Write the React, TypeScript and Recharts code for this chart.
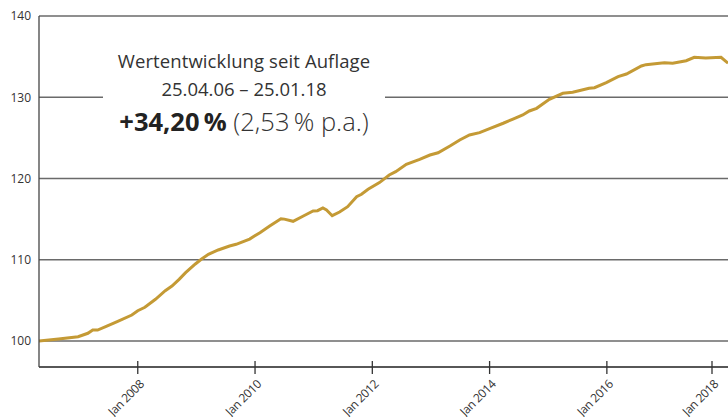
import React from "react";
import { LineChart, Line, XAxis, YAxis, CartesianGrid } from "recharts";

const dates: string[] = [
  "2006-04-25", "2006-08-25", "2006-12-25", "2007-02-25", "2007-03-25", "2007-04-25",
  "2007-06-25", "2007-08-25", "2007-11-25", "2008-01-01", "2008-02-15", "2008-04-20",
  "2008-06-20", "2008-08-01", "2008-09-15", "2008-10-25", "2008-12-25", "2009-02-01",
  "2009-03-15", "2009-05-15", "2009-07-25", "2009-09-05", "2009-11-28", "2010-02-01",
  "2010-04-01", "2010-06-10", "2010-07-01", "2010-08-25", "2010-10-28", "2010-12-28",
  "2011-01-25", "2011-02-28", "2011-03-20", "2011-04-25", "2011-06-10", "2011-07-30",
  "2011-09-25", "2011-10-25", "2011-12-05", "2012-02-15", "2012-04-15", "2012-05-25",
  "2012-07-30", "2012-10-22", "2012-12-25", "2013-02-15", "2013-04-28", "2013-06-28",
  "2013-08-28", "2013-10-30", "2014-01-01", "2014-03-25", "2014-05-25", "2014-07-25",
  "2014-09-05", "2014-10-20", "2015-01-08", "2015-04-01", "2015-06-01", "2015-09-12",
  "2015-10-15", "2015-12-28", "2016-03-10", "2016-05-01", "2016-08-03", "2016-09-01",
  "2016-11-25", "2016-12-25", "2017-02-15", "2017-05-08", "2017-06-28", "2017-09-08",
  "2017-12-12", "2018-01-25",
];

const values: number[] = [
  100.0, 100.25, 100.53, 100.95, 101.35, 101.35,
  101.85, 102.38, 103.2, 103.73, 104.15, 105.13,
  106.19, 106.77, 107.59, 108.41, 109.48, 110.06,
  110.67, 111.2, 111.69, 111.9, 112.55, 113.33,
  114.15, 115.05, 115.0, 114.73, 115.38, 116.0,
  116.04, 116.37, 116.12, 115.42, 115.88, 116.53,
  117.76, 118.06, 118.67, 119.5, 120.43, 120.84,
  121.75, 122.36, 122.89, 123.17, 124.0, 124.74,
  125.35, 125.64, 126.13, 126.8, 127.32, 127.82,
  128.31, 128.64, 129.75, 130.49, 130.61, 131.1,
  131.18, 131.79, 132.53, 132.86, 133.85, 134.01,
  134.18, 134.25, 134.18, 134.5, 134.92, 134.83,
  134.92, 134.2,
];

const xTickYears: number[] = [2008, 2010, 2012, 2014, 2016, 2018];
const yTicks: number[] = [100, 110, 120, 130, 140];

const titleLine1 = "Wertentwicklung seit Auflage";
const titleLine2 = "25.04.06 – 25.01.18";
const perfTotal = "+34,20\u2009%";
const perfPa = "(2,53\u2009% p.a.)";

function toYear(s: string): number {
  const [y, m, d] = s.split("-").map(Number);
  return y + (m - 1) / 12 + (d - 1) / 365;
}

const data = dates.map((d, i) => ({ t: toYear(d), v: values[i] }));
const startT = toYear(dates[0]);
const endT = toYear(dates[dates.length - 1]);

const FONT = "'Open Sans', 'DejaVu Sans', sans-serif";

const XTick = (props: any) => {
  const { x, y, payload } = props;
  const ax = x + 7;
  const ay = y + 18;
  return (
    <g>
      <line x1={x} x2={x} y1={y - 6} y2={y + 7} stroke="#333" strokeWidth={1.3} />
      <text
        x={ax}
        y={ay}
        textAnchor="end"
        fontSize={12}
        fill="#333"
        fontFamily={FONT}
        letterSpacing={-0.4}
        transform={`rotate(-45, ${ax}, ${ay})`}
      >
        {`Jan ${payload.value}`}
      </text>
    </g>
  );
};

export default function App() {
  return (
    <div style={{ position: "absolute", left: 0, top: 0, width: 728, height: 417, background: "#fff" }}>
      <LineChart
        width={728}
        height={417}
        data={data}
        margin={{ top: 16, right: 0, left: 0, bottom: 0 }}
      >
        <CartesianGrid vertical={false} stroke="#6a6a6a" strokeWidth={1.3} />
        <XAxis
          dataKey="t"
          type="number"
          domain={[startT, endT]}
          ticks={xTickYears}
          tick={<XTick />}
          tickLine={false}
          tickSize={0}
          tickMargin={0}
          height={50}
          axisLine={{ stroke: "#444", strokeWidth: 1.3 }}
          allowDataOverflow
        />
        <YAxis
          type="number"
          domain={[96.8, 140]}
          ticks={yTicks}
          width={39}
          tickLine={false}
          axisLine={{ stroke: "#444", strokeWidth: 1.3 }}
          tick={{ fontSize: 12, fill: "#333", fontFamily: FONT }}
          allowDataOverflow
        />
        <Line
          type="linear"
          dataKey="v"
          stroke="#C49A35"
          strokeWidth={3}
          dot={false}
          isAnimationActive={false}
        />
      </LineChart>
      <div
        style={{
          position: "absolute",
          left: 103,
          top: 45,
          width: 282,
          height: 96,
          background: "#fff",
          textAlign: "center",
          color: "#333",
          fontFamily: FONT,
        }}
      >
        <div style={{ fontSize: 18.5, lineHeight: "28px", marginTop: 2, letterSpacing: 0.1 }}>{titleLine1}</div>
        <div style={{ fontSize: 18.5, lineHeight: "28px" }}>{titleLine2}</div>
        <div style={{ fontSize: 25.5, lineHeight: "36px", whiteSpace: "nowrap" }}>
          <span style={{ fontWeight: 700, color: "#222" }}>{perfTotal}</span>{" "}
          <span style={{ fontWeight: 300 }}>{perfPa}</span>
        </div>
      </div>
    </div>
  );
}
